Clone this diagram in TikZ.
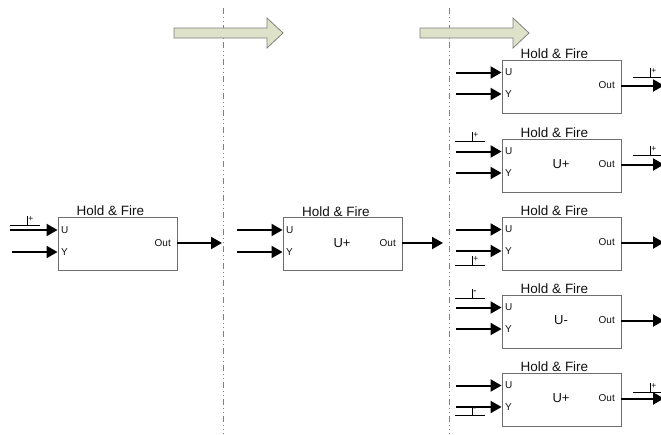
\documentclass[tikz,border=0pt]{standalone}
\usepackage{fontspec}
\setmainfont{Liberation Sans}
\usetikzlibrary{arrows.meta}
\definecolor{boxgray}{HTML}{6E6E6E}
\definecolor{bigfill}{HTML}{DDE2C9}
\definecolor{txt}{HTML}{101010}
\begin{document}
\begin{tikzpicture}[x=1pt,y=-1pt,
  hfbox/.style={draw=boxgray,line width=0.9pt,minimum width=119pt,minimum height=53pt,inner sep=0pt},
  titletxt/.style={font=\fontsize{13.5}{14}\selectfont,text=txt,anchor=base,inner sep=0pt},
  porttxt/.style={font=\fontsize{10}{11}\selectfont,text=txt,inner sep=0pt},
  midtxt/.style={font=\fontsize{13}{14}\selectfont,text=txt,inner sep=0pt},
  sigarr/.style={line width=2pt,-{Triangle[length=11pt,width=12pt]}},
  sepline/.style={gray,line width=0.8pt,dash pattern=on 6pt off 3pt on 1pt off 3pt on 1pt off 3pt},
  bigarrow/.style={draw=gray,fill=bigfill,line width=0.8pt},
  pulse/.pic={
    \draw[line width=0.8pt] (-15,0) -- (15,0);
    \draw[line width=0.8pt] (2,0) -- (2,-9.5);
    \node[font=\fontsize{8.5}{9}\selectfont,anchor=west,inner sep=0.6pt,text=txt] at (2.5,-6) {#1};
  }]
\useasboundingbox (0,0) rectangle (661,434);

% separators
\draw[sepline] (223,8) -- (223,434);
\draw[sepline] (449,8) -- (449,434);

% big arrows
\draw[bigarrow] (174,28) -- (267,28) -- (267,18) -- (283,33) -- (267,48) -- (267,38) -- (174,38) -- cycle;
\draw[bigarrow] (420,28) -- (513,28) -- (513,18) -- (529,33) -- (513,48) -- (513,38) -- (420,38) -- cycle;

% ---------- block 1 ----------
\node[hfbox] (b1) at (117.5,243.5) {};
\node[titletxt] (b1t) at (110.5,215.5) {Hold \& Fire};
\node[porttxt,anchor=west] (b1U) at (61,230) {U};
\node[porttxt,anchor=west] (b1Y) at (61,252) {Y};
\node[porttxt,anchor=east] (b1O) at (171,243) {Out};
\coordinate (b1us) at (10,230);
\coordinate (b1ys) at (12,252);
\coordinate (b1oe) at (222,243);
\draw[sigarr] (b1us) -- (b1us -| b1.west);
\draw[sigarr] (b1ys) -- (b1ys -| b1.west);
\draw[sigarr] (b1oe -| b1.east) -- (b1oe);
\pic (m1) at (25,225.5) {pulse={+}};

% ---------- block 2 ----------
\node[hfbox] (b2) at (342.5,244) {};
\node[titletxt] (b2t) at (336,216.5) {Hold \& Fire};
\node[porttxt,anchor=west] (b2U) at (286,230) {U};
\node[porttxt,anchor=west] (b2Y) at (286,252) {Y};
\node[porttxt,anchor=east] (b2O) at (396,243) {Out};
\node[midtxt] (b2M) at (342,243) {U+};
\coordinate (b2us) at (237,230);
\coordinate (b2ys) at (237,252);
\coordinate (b2oe) at (443,243);
\draw[sigarr] (b2us) -- (b2us -| b2.west);
\draw[sigarr] (b2ys) -- (b2ys -| b2.west);
\draw[sigarr] (b2oe -| b2.east) -- (b2oe);

% ---------- right column ----------
\foreach \n/\T/\mid in {a/60/{}, b/139/{U+}, c/217/{}, d/295/{U-}, e/373/{U+}}{
  \node[hfbox] (r\n) at (561.5,\T+26.5) {};
  \node[titletxt] (r\n t) at (554.5,\T-1.5) {Hold \& Fire};
  \node[porttxt,anchor=west] (r\n U) at (505,\T+12.5) {U};
  \node[porttxt,anchor=west] (r\n Y) at (505,\T+34) {Y};
  \node[porttxt,anchor=east] (r\n O) at (615,\T+25) {Out};
  \node[midtxt] (r\n M) at (561,\T+25) {\mid};
  \coordinate (r\n us) at (456,\T+12.5);
  \coordinate (r\n ys) at (456,\T+34);
  \coordinate (r\n oe) at (664,\T+25.5);
  \draw[sigarr] (r\n us) -- (r\n us -| r\n.west);
  \draw[sigarr] (r\n ys) -- (r\n ys -| r\n.west);
  \draw[sigarr] (r\n oe -| r\n.east) -- (r\n oe);
}

% pulse markers, right column
\pic (mbi) at (470,141) {pulse={+}};
\pic (mci) at (470,265) {pulse={+}};
\pic (mdi) at (470,298) {pulse={\bfseries -}};
\pic (mei) at (470,415) {pulse={\bfseries -}};
\pic (mao) at (648,77) {pulse={+}};
\pic (mbo) at (648,155.5) {pulse={+}};
\pic (meo) at (648,392) {pulse={+}};
\end{tikzpicture}
\end{document}
